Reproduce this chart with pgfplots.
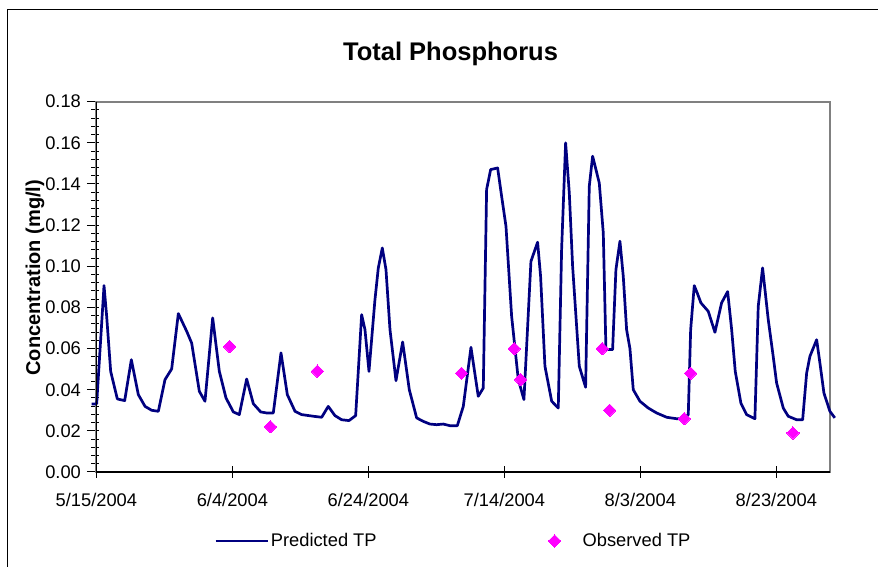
\documentclass[border=0pt]{standalone}
\usepackage{fontspec}
\setmainfont{Liberation Sans}
\usepackage{pgfplots}
\usepackage{pgfplotstable}
\pgfplotsset{compat=1.18}
\definecolor{tpnavy}{HTML}{000080}
\definecolor{tpmag}{HTML}{FF00FF}
\definecolor{bordergray}{HTML}{808080}
\pgfplotsset{
  lineleg/.style={legend image code/.code={\draw[##1] (0pt,0pt) -- (52pt,0pt);}},
  markleg/.style={legend image code/.code={\path[draw=none,fill=none] (0pt,-1pt) rectangle (33pt,1pt);\draw[##1] plot coordinates {(7pt,0pt)};}},
}

\pgfplotstableread{
day tp
-0.69 0.0331
0.04 0.0331
1.12 0.0906
1.51 0.0757
2.10 0.0489
3.08 0.0355
4.16 0.0347
5.14 0.0546
6.17 0.0376
7.15 0.0319
8.13 0.0300
9.11 0.0295
10.09 0.0449
11.07 0.0501
12.05 0.0770
13.28 0.0684
14.01 0.0627
15.14 0.0392
15.97 0.0344
17.10 0.0749
18.08 0.0489
19.06 0.0360
20.14 0.0292
21.02 0.0279
22.10 0.0452
23.08 0.0332
24.16 0.0292
25.04 0.0287
26.02 0.0287
27.15 0.0579
28.08 0.0376
29.21 0.0295
30.19 0.0279
31.90 0.0271
33.13 0.0266
34.10 0.0319
35.09 0.0274
36.07 0.0254
37.15 0.0250
38.13 0.0274
39.01 0.0765
39.50 0.0692
40.09 0.0489
40.97 0.0838
41.46 0.0992
42.05 0.1089
42.59 0.0984
43.18 0.0692
44.06 0.0444
45.04 0.0632
46.02 0.0400
47.10 0.0263
48.08 0.0246
49.06 0.0233
50.04 0.0230
51.02 0.0233
52.00 0.0225
53.08 0.0225
53.96 0.0319
55.09 0.0606
56.16 0.0368
56.90 0.0408
57.39 0.1373
57.98 0.1470
59.01 0.1478
59.60 0.1340
60.24 0.1194
61.07 0.0757
62.05 0.0449
62.88 0.0352
63.91 0.1024
64.89 0.1117
65.33 0.0951
65.97 0.0514
66.96 0.0344
67.93 0.0311
68.42 0.1081
69.01 0.1600
69.55 0.1357
70.04 0.1000
71.02 0.0514
71.95 0.0412
72.49 0.1389
72.98 0.1535
73.96 0.1405
74.55 0.1162
74.94 0.0595
75.92 0.0595
76.41 0.0984
77.00 0.1122
77.49 0.0951
77.98 0.0692
78.47 0.0600
78.96 0.0400
79.94 0.0344
81.16 0.0311
82.39 0.0287
83.87 0.0266
85.34 0.0259
86.46 0.0259
87.05 0.0279
87.40 0.0692
87.93 0.0906
88.37 0.0870
88.91 0.0822
89.99 0.0781
90.97 0.0679
91.95 0.0822
92.84 0.0877
93.43 0.0692
93.96 0.0489
94.79 0.0335
95.63 0.0279
96.85 0.0259
97.34 0.0805
97.98 0.0992
98.81 0.0741
99.54 0.0562
100.04 0.0433
101.02 0.0311
101.75 0.0271
102.98 0.0254
103.87 0.0254
104.46 0.0481
104.94 0.0562
105.93 0.0643
106.41 0.0530
107.00 0.0384
107.88 0.0295
108.60 0.0263
}\predicted

\pgfplotstableread{
day tp
19.60 0.061
25.60 0.022
32.50 0.049
53.70 0.048
61.46 0.060
62.39 0.045
74.40 0.060
75.48 0.030
86.46 0.026
87.40 0.048
102.44 0.019
}\observed

\begin{document}
\begin{tikzpicture}
\useasboundingbox (0pt,0pt) rectangle (878pt,567pt);
\draw[black, line width=1pt] (7.5pt,-20pt) -- (7.5pt,557.7pt) -- (900pt,557.7pt);
\node[anchor=base, font=\fontsize{25.5}{30}\selectfont\bfseries] at (450.5pt,506.3pt) {Total Phosphorus};
\begin{axis}[
  at={(96.4pt,95pt)}, anchor=south west,
  scale only axis, width=733.5pt, height=370.3pt,
  xmin=0, xmax=107.88, ymin=0, ymax=0.18,
  clip=false,
  axis line style={draw=bordergray, line width=2pt},
  xtick={0,20,40,60,80,100},
  xticklabels={5/15/2004,6/4/2004,6/24/2004,7/14/2004,8/3/2004,8/23/2004},
  ytick={0,0.02,...,0.181},
  minor y tick num=4,
  tick pos=left,
  tick align=center,
  major tick length=12pt,
  minor tick length=7.7pt,
  major y tick style={xshift=-3.5pt},
  minor y tick style={xshift=-1.2pt},
  tick style={black, line width=1pt},
  x tick label style={yshift=-12pt},
  y tick label style={xshift=-6pt},
  tick label style={font=\fontsize{18.3}{22}\selectfont},
  /pgf/number format/assume math mode=true,
  yticklabel style={/pgf/number format/.cd, fixed, fixed zerofill, precision=2},
  scaled y ticks=false,
  ylabel={Concentration (mg/l)},
  ylabel style={at={(axis description cs:-0.0837,0.5247)}, anchor=center, font=\fontsize{20}{24}\selectfont\bfseries},
  legend columns=2,
  legend cell align=left,
  legend style={at={(axis description cs:0.1603,-0.1863)}, anchor=west, draw=none, fill=none, inner sep=0pt,
    font=\fontsize{18.3}{22}\selectfont,
    /tikz/every even column/.append style={column sep=169pt}},
]
\addplot[tpnavy, line width=2.7pt, line join=round, mark=none, lineleg]
  table[x=day, y=tp] {\predicted};
\addlegendentry{Predicted TP}
\addplot[only marks, mark=square*, mark size=4.4pt, mark options={rotate=45, fill=tpmag, draw=tpmag, line width=0pt}, markleg]
  table[x=day, y=tp] {\observed};
\addlegendentry{Observed TP}
\draw[black, line width=1.3pt] (rel axis cs:0,1) -- (rel axis cs:0,0) -- (rel axis cs:1,0);
\end{axis}
\end{tikzpicture}
\end{document}
